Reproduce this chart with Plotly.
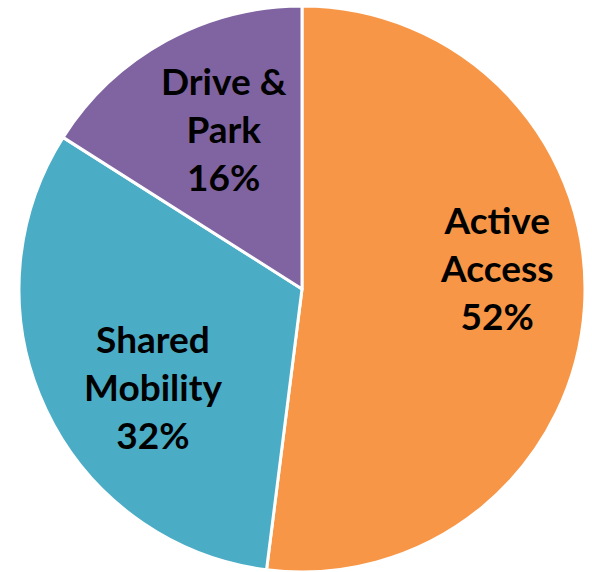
import math
import plotly.graph_objects as go

labels = ["Active Access", "Shared Mobility", "Drive & Park"]
values = [52, 32, 16]
text_labels = ["Active<br>Access<br>52%", "Shared<br>Mobility<br>32%", "Drive &<br>Park<br>16%"]
colors = ["#F79646", "#4BACC6", "#8064A2"]

# label placement style (fraction of radius, angle shift in degrees)
label_radius = [0.69, 0.63, 0.63]
label_shift = [-10, -8, 3]

W, H = 592, 572
cx, cy, R = 302, 289, 283  # pixel geometry of the pie

fig = go.Figure(go.Pie(
    labels=labels,
    values=values,
    textinfo="none",
    sort=False,
    direction="clockwise",
    rotation=0,
    marker=dict(colors=colors, line=dict(color="white", width=3)),
    domain=dict(x=[(cx - R) / W, (cx + R) / W], y=[1 - (cy + R) / H, 1 - (cy - R) / H]),
    hoverinfo="label+percent",
))

total = sum(values)
cum = 0
for i, v in enumerate(values):
    mid = (cum + v / 2) / total * 360 + label_shift[i]
    cum += v
    a = math.radians(mid)
    px = cx + label_radius[i] * R * math.sin(a)
    py = cy - label_radius[i] * R * math.cos(a)
    fig.add_annotation(
        x=px / W, y=1 - py / H, xref="paper", yref="paper",
        text=text_labels[i], showarrow=False,
        font=dict(family="Lato", size=37, color="black", weight="bold"),
        align="center", xanchor="center", yanchor="middle",
    )

fig.update_layout(
    width=W, height=H,
    margin=dict(l=0, r=0, t=0, b=0),
    showlegend=False,
    paper_bgcolor="white",
)
fig.write_html("out.html", config={"displayModeBar": False},
               post_script="document.body.style.margin='0';")
